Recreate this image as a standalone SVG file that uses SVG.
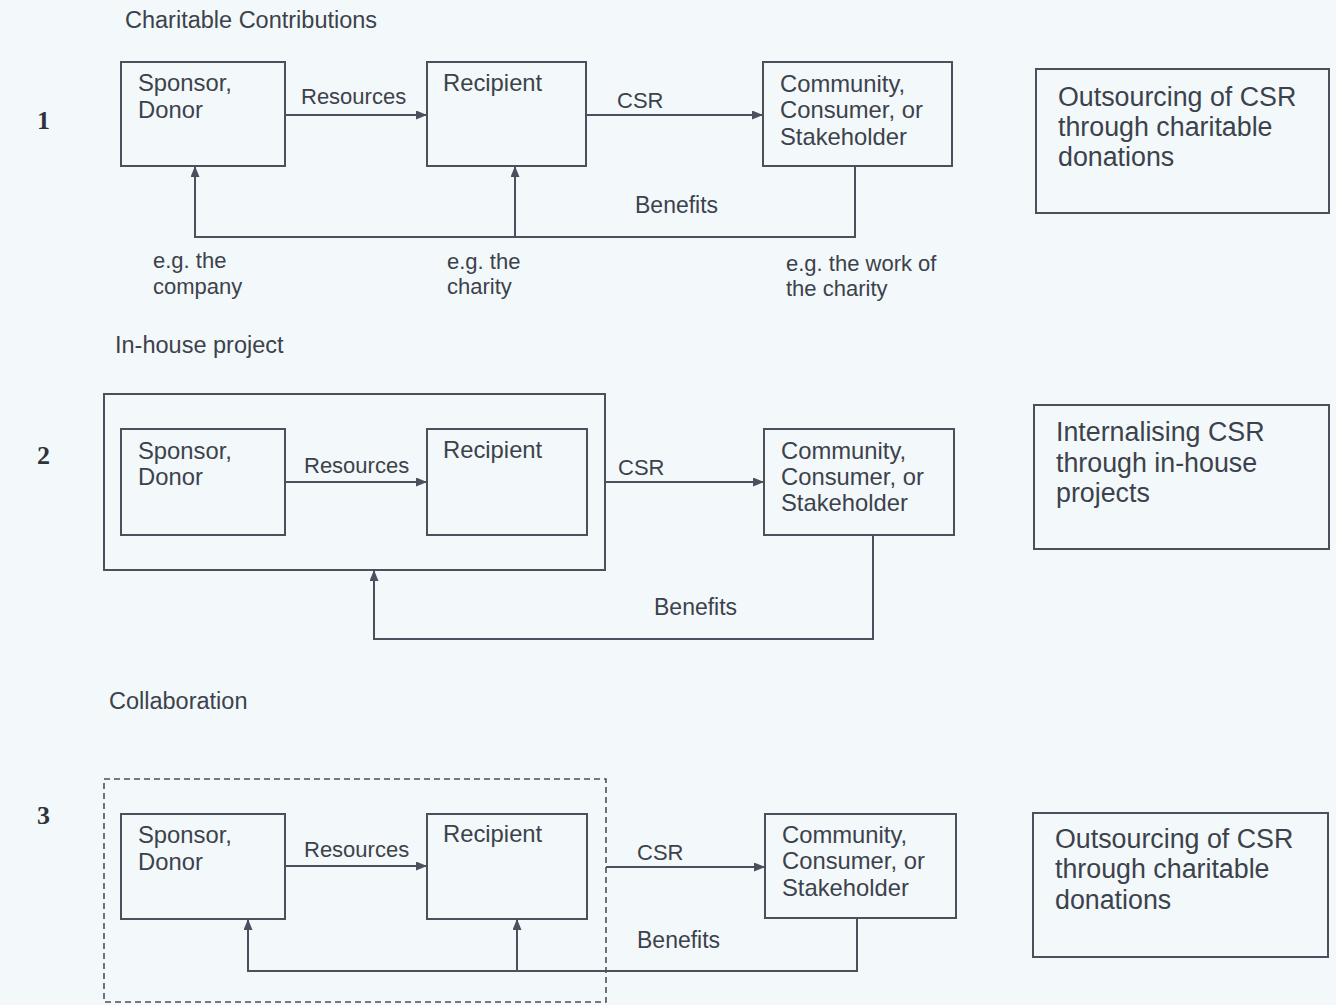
<svg xmlns="http://www.w3.org/2000/svg" width="1336" height="1005" viewBox="0 0 1336 1005">
<style>
  .bg{fill:#f3f8fb}
  .box{fill:none;stroke:#4a505c;stroke-width:2}
  .dash{fill:none;stroke:#4a505c;stroke-width:1.6;stroke-dasharray:6 4}
  .con{fill:none;stroke:#4a505c;stroke-width:2}
  .arr{marker-end:url(#ah)}
  text{font-family:"Liberation Sans",Arial,sans-serif;fill:#3c424b}
  .t{font-size:23.5px}
  .n{font-size:23.8px}
  .lb{font-size:22px}
  .bf{font-size:23px}
  .r{font-size:26.8px}
  .num{font-family:"Liberation Serif","Times New Roman",serif;font-size:26px;font-weight:bold;fill:#2e333a}
</style>
<defs>
  <marker id="ah" markerUnits="userSpaceOnUse" markerWidth="11" markerHeight="9" refX="11" refY="4.5" orient="auto">
    <path d="M0,0 L11,4.5 L0,9 z" fill="#4a505c"/>
  </marker>
</defs>
<rect class="bg" x="0" y="0" width="1336" height="1005"/>

<!-- Section 1 -->
<text class="t" x="125" y="28">Charitable Contributions</text>
<text class="num" x="37" y="129">1</text>
<g id="s1-sponsor"><rect class="box" x="121" y="62" width="164" height="104"/><text class="n" x="138" y="91">Sponsor,</text><text class="n" x="138" y="118">Donor</text></g>
<g id="s1-recipient"><rect class="box" x="427" y="62" width="159" height="104"/><text class="n" x="443" y="91">Recipient</text></g>
<g id="s1-community"><rect class="box" x="763" y="62" width="189" height="104"/><text class="n" x="780" y="92">Community,</text><text class="n" x="780" y="118">Consumer, or</text><text class="n" x="780" y="145">Stakeholder</text></g>
<g id="s1-note"><rect class="box" x="1036" y="69" width="293" height="144"/><text class="r" x="1058" y="106">Outsourcing of CSR</text><text class="r" x="1058" y="136">through charitable</text><text class="r" x="1058" y="166">donations</text></g>
<g id="s1-labels">
  <text class="lb" x="301" y="104">Resources</text>
  <text class="lb" x="617" y="108">CSR</text>
  <text class="bf" x="635" y="213">Benefits</text>
  <text class="lb" x="153" y="268">e.g. the</text><text class="lb" x="153" y="294">company</text>
  <text class="lb" x="447" y="269">e.g. the</text><text class="lb" x="447" y="294">charity</text>
  <text class="lb" x="786" y="271">e.g. the work of</text><text class="lb" x="786" y="296">the charity</text>
</g>

<!-- Section 2 -->
<text class="t" x="115" y="353">In-house project</text>
<text class="num" x="37" y="464">2</text>
<g id="s2-group"><rect class="box" x="104" y="394" width="501" height="176"/></g>
<g id="s2-sponsor"><rect class="box" x="121" y="429" width="164" height="106"/><text class="n" x="138" y="459">Sponsor,</text><text class="n" x="138" y="485">Donor</text></g>
<g id="s2-recipient"><rect class="box" x="427" y="429" width="160" height="106"/><text class="n" x="443" y="458">Recipient</text></g>
<g id="s2-community"><rect class="box" x="764" y="429" width="190" height="106"/><text class="n" x="781" y="459">Community,</text><text class="n" x="781" y="485">Consumer, or</text><text class="n" x="781" y="511">Stakeholder</text></g>
<g id="s2-note"><rect class="box" x="1034" y="405" width="295" height="144"/><text class="r" x="1056" y="441">Internalising CSR</text><text class="r" x="1056" y="472">through in-house</text><text class="r" x="1056" y="502">projects</text></g>
<g id="s2-labels">
  <text class="lb" x="304" y="473">Resources</text>
  <text class="lb" x="618" y="475">CSR</text>
  <text class="bf" x="654" y="615">Benefits</text>
</g>

<!-- Section 3 -->
<text class="t" x="109" y="709">Collaboration</text>
<text class="num" x="37" y="824">3</text>
<g id="s3-group"><rect class="dash" x="104" y="779" width="502" height="223"/></g>
<g id="s3-sponsor"><rect class="box" x="121" y="814" width="164" height="105"/><text class="n" x="138" y="843">Sponsor,</text><text class="n" x="138" y="870">Donor</text></g>
<g id="s3-recipient"><rect class="box" x="427" y="814" width="160" height="105"/><text class="n" x="443" y="842">Recipient</text></g>
<g id="s3-community"><rect class="box" x="765" y="814" width="191" height="104"/><text class="n" x="782" y="843">Community,</text><text class="n" x="782" y="869">Consumer, or</text><text class="n" x="782" y="896">Stakeholder</text></g>
<g id="s3-note"><rect class="box" x="1033" y="813" width="295" height="144"/><text class="r" x="1055" y="848">Outsourcing of CSR</text><text class="r" x="1055" y="878">through charitable</text><text class="r" x="1055" y="909">donations</text></g>
<g id="s3-labels">
  <text class="lb" x="304" y="857">Resources</text>
  <text class="lb" x="637" y="860">CSR</text>
  <text class="bf" x="637" y="948">Benefits</text>
</g>

<g id="connectors">
  <path class="con arr" d="M285,115 H427"/>
  <path class="con arr" d="M586,115 H763"/>
  <path class="con arr" d="M855,166 V237 H195 V166"/>
  <path class="con arr" d="M515,237 V166"/>

  <path class="con arr" d="M285,482 H427"/>
  <path class="con arr" d="M605,482 H764"/>
  <path class="con arr" d="M873,535 V639 H374 V570"/>

  <path class="con arr" d="M285,866 H427"/>
  <path class="con arr" d="M606,867 H765"/>
  <path class="con arr" d="M857,918 V971 H248 V919"/>
  <path class="con arr" d="M517,971 V919"/>
</g>
</svg>
